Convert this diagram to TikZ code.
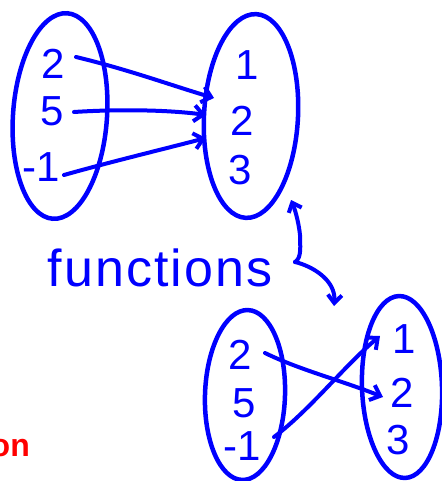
\documentclass[tikz,border=0pt]{standalone}
\usepackage{fontspec}
\setmainfont{Liberation Sans}
\usetikzlibrary{shapes.geometric,arrows.meta}
\definecolor{ink}{RGB}{0,0,255}
\definecolor{redink}{RGB}{255,0,0}
\begin{document}
\begin{tikzpicture}[x=1pt,y=-1pt,
  setshape/.style={draw=ink,line width=4.5pt,ellipse,inner sep=0pt},
  num/.style={text=ink,font=\fontsize{42}{42}\selectfont,inner sep=0pt},
  mapar/.style={draw=ink,line width=4pt,line cap=round,-{Straight Barb[length=9pt,width=16pt,line width=4pt]}},
  hint/.style={draw=ink,line width=4pt,line cap=round}]
\useasboundingbox (0,0) rectangle (441,481);
% top pair
\node[setshape,minimum width=94pt,minimum height=206pt,rotate=-4] (A) at (60,116) {};
\node[setshape,minimum width=94pt,minimum height=204pt,rotate=-3] (B) at (251,116) {};
\node[num] (a2) at (53,64) {2};
\node[num] (a5) at (52,111) {5};
\node[num] (a1) at (41,167) {-1};
\node[num] (b1) at (247,65) {1};
\node[num] (b2) at (242,121) {2};
\node[num] (b3) at (240,170) {3};
\coordinate (t1) at (214,98);
\coordinate (t2) at (206,115);
\coordinate (t3) at (206,138);
\draw[mapar] (76,57) .. controls (130,70) and (170,85) .. (t1);
\draw[mapar] (74,112) .. controls (120,109) and (170,110) .. (t2);
\draw[mapar] (64,175) .. controls (110,162) and (160,150) .. (t3);
% label
\node[text=ink,font=\fontsize{52}{52}\selectfont\addfontfeature{LetterSpace=4}] (fn) at (160,268) {functions};
\coordinate (up) at (291,200);
\coordinate (wig) at (295,262);
\coordinate (down) at (334,306);
\draw[hint,-{Straight Barb[length=8pt,width=14pt,line width=4pt]}] (wig) .. controls (302,258) and (300,245) .. (300,235) .. controls (299,225) and (296,212) .. (up);
\draw[hint,-{Straight Barb[length=8pt,width=14pt,line width=4pt]}] (wig) .. controls (312,266) and (336,280) .. (down);
% bottom pair
\node[setshape,minimum width=80pt,minimum height=170pt,rotate=-2] (C) at (245,395) {};
\node[setshape,minimum width=80pt,minimum height=182pt,rotate=2] (D) at (402,387) {};
\node[num] (c2) at (240,355) {2};
\node[num] (c5) at (244,403) {5};
\node[num] (c1) at (242,446) {-1};
\node[num] (d1) at (404,339) {1};
\node[num] (d2) at (402,393) {2};
\node[num] (d3) at (398,440) {3};
\coordinate (u2) at (383,397);
\coordinate (u1) at (380,336);
\draw[mapar] (265,353) .. controls (300,370) and (340,380) .. (u2);
\draw[mapar] (274,437) .. controls (310,410) and (345,365) .. (u1);
% cut-off red word
\node[text=redink,font=\fontsize{32}{32}\selectfont\bfseries,anchor=base east,inner sep=0pt] (rw) at (30,456) {on};
\end{tikzpicture}
\end{document}
